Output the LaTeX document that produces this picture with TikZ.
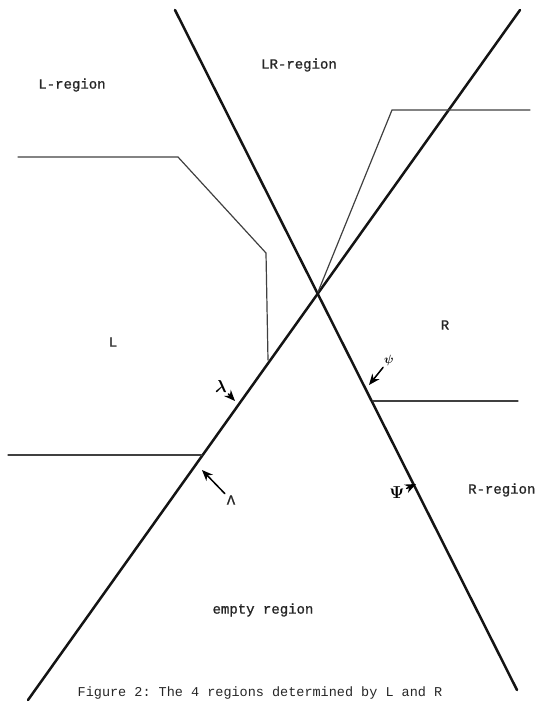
\documentclass[tikz,border=0pt]{standalone}
\usepackage{amsmath,amssymb}
\usepackage{fontspec}
\setmonofont[AutoFakeBold=1.2]{Liberation Mono}
\usetikzlibrary{arrows.meta}

\begin{document}
\begin{tikzpicture}[x=1pt,y=-1pt,>={Stealth[length=11pt,width=9pt]},font=\ttfamily\bfseries\fontsize{14}{16}\selectfont,line cap=round]
\tikzset{bound/.style={black!92,line width=2.5pt},
  border/.style={black!75,line width=1.2pt},
  marker/.style={->,black,line width=1.5pt,shorten <=1pt},
  label/.style={black!85,inner sep=1pt},
  greek/.style={black,inner sep=1pt,font=\fontsize{17}{18}\selectfont}}
\useasboundingbox (0,0) rectangle (542,705);
% the two lines L and R
\coordinate (Ltop) at (520,10);
\coordinate (Lbot) at (28,700);
\coordinate (Rtop) at (175,10);
\coordinate (Rbot) at (517,690);
\coordinate (cross) at (318,292);
\draw[bound] (Lbot) -- (Ltop);
\draw[bound] (Rtop) -- (Rbot);
% borders of L
\coordinate (La) at (18,157);
\coordinate (Lb) at (178,157);
\coordinate (Lc) at (266,253);
\coordinate (Ld) at (268,360);
\draw[border] (La) -- (Lb) -- (Lc) -- (Ld);
\coordinate (Le) at (8,455);
\coordinate (Lf) at (202,455);
\draw[border] (Le) -- (Lf);
% borders of R
\coordinate (Ra) at (392,110);
\coordinate (Rb) at (530,110);
\draw[border] (cross) -- (Ra) -- (Rb);
\coordinate (Rc) at (373,401);
\coordinate (Rd) at (518,401);
\draw[border] (Rc) -- (Rd);
% regions
\node[label] (lreg) at (72,85) {L-region};
\node[label] (lrreg) at (299,65) {LR-region};
\node[label] (lnode) at (113,342) {L};
\node[label] (rnode) at (445,325) {R};
\node[label,anchor=west] (rreg) at (467,490) {R-region};
\node[label] (empty) at (263,610) {empty region};
% normals
\node[greek] (lam) at (221,386) {$\boldsymbol{\lambda}$};
\coordinate (lamtip) at (235,401);
\draw[marker] (lam) -- (lamtip);
\node[label] (Lam) at (231,500) {Λ};
\coordinate (Lamtip) at (202,470);
\draw[marker] (Lam) -- (Lamtip);
\node[greek,font=\fontsize{12}{13}\selectfont] (psi) at (389,360) {$\boldsymbol{\psi}$};
\coordinate (psitip) at (369,385);
\draw[marker] (psi) -- (psitip);
\node[greek] (Psi) at (397,493) {$\boldsymbol{\Psi}$};
\coordinate (Psitip) at (416,484);
\draw[marker] (Psi) -- (Psitip);
% caption
\node[label,font=\ttfamily\fontsize{13.5}{15}\selectfont] (cap) at (260,693) {Figure 2: The 4 regions determined by L and R};
\end{tikzpicture}
\end{document}
